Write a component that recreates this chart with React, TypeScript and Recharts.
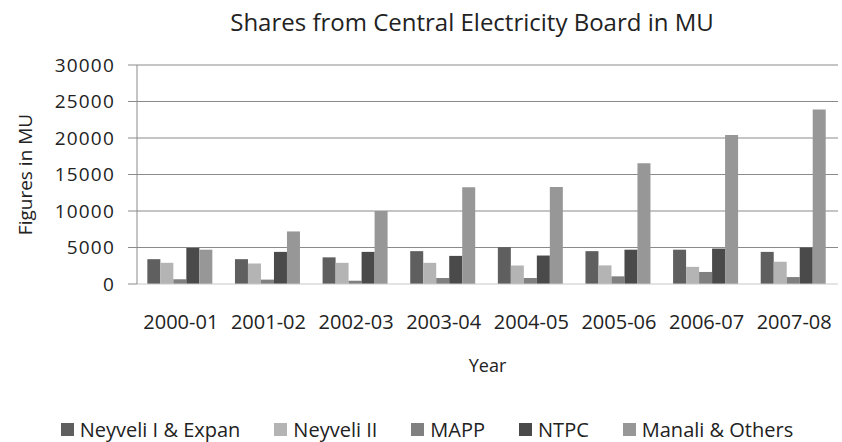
import React from 'react';
import { BarChart, Bar, XAxis, YAxis, CartesianGrid, Legend, Label } from 'recharts';

const years = ['2000-01', '2001-02', '2002-03', '2003-04', '2004-05', '2005-06', '2006-07', '2007-08'];
const neyveli1 = [3400, 3400, 3650, 4500, 5050, 4500, 4700, 4400];
const neyveli2 = [2900, 2800, 2900, 2900, 2550, 2550, 2350, 3050];
const mapp = [650, 600, 450, 820, 820, 1050, 1650, 950];
const ntpc = [4950, 4400, 4400, 3850, 3900, 4700, 4850, 5000];
const manali = [4700, 7200, 10000, 13250, 13300, 16550, 20400, 23900];
const yTicks = [0, 5000, 10000, 15000, 20000, 25000, 30000];

const series = [
  { key: 'n1', name: 'Neyveli I & Expan', color: '#5f5f5f' },
  { key: 'n2', name: 'Neyveli II', color: '#b4b4b4' },
  { key: 'mapp', name: 'MAPP', color: '#808080' },
  { key: 'ntpc', name: 'NTPC', color: '#4a4a4a' },
  { key: 'manali', name: 'Manali & Others', color: '#979797' },
];

const data = years.map((year, i) => ({
  year,
  n1: neyveli1[i],
  n2: neyveli2[i],
  mapp: mapp[i],
  ntpc: ntpc[i],
  manali: manali[i],
}));

const font = '"Open Sans", sans-serif';

const renderLegend = () => (
  <div style={{ display: 'flex', justifyContent: 'center', fontFamily: font, fontSize: 20, color: '#222' }}>
    {series.map((s, i) => (
      <div key={s.key} style={{ display: 'flex', alignItems: 'center', marginLeft: i === 0 ? 0 : 34 }}>
        <span style={{ width: 13, height: 13, background: s.color, marginRight: 6, display: 'inline-block' }} />
        <span>{s.name}</span>
      </div>
    ))}
  </div>
);

export default function App() {
  return (
    <div style={{ position: 'absolute', left: 0, top: 0, width: 842, height: 442, background: '#fff' }}>
      <div
        style={{
          position: 'absolute',
          left: 0,
          top: 5,
          width: 944,
          textAlign: 'center',
          fontFamily: font,
          fontSize: 24,
          color: '#222',
          zIndex: 1,
        }}
      >
        Shares from Central Electricity Board in MU
      </div>
      <BarChart
        width={842}
        height={442}
        data={data}
        margin={{ top: 65, right: 4, left: 0, bottom: 68 }}
        barCategoryGap="11.8%"
        barGap={0}
      >
        <CartesianGrid vertical={false} stroke="#8a8a8a" horizontalValues={[5000, 10000, 15000, 20000, 25000, 30000]} />
        <XAxis
          dataKey="year"
          height={90}
          tickLine={false}
          axisLine={{ stroke: '#c8c8c8' }}
          tickMargin={25}
          tick={{ fontFamily: font, fontSize: 20, fill: '#222' }}
        >
          <Label value="Year" position="insideBottom" offset={2} style={{ fontFamily: font, fontSize: 18, fill: '#222' }} />
        </XAxis>
        <YAxis
          width={137}
          domain={[0, 30000]}
          ticks={yTicks}
          interval={0}
          tickSize={9}
          tickMargin={13}
          tickLine={{ stroke: '#8a8a8a' }}
          axisLine={{ stroke: '#8a8a8a' }}
          tick={{ fontFamily: font, fontSize: 19, fill: '#222', letterSpacing: 1.2 }}
        >
          <Label
            value="Figures in MU"
            angle={-90}
            position="insideLeft"
            offset={25}
            style={{ fontFamily: font, fontSize: 19, fill: '#222', textAnchor: 'middle' }}
          />
        </YAxis>
        <Legend
          layout="horizontal"
          verticalAlign="middle"
          align="center"
          wrapperStyle={{ top: 416, left: 0, width: 854 }}
          content={renderLegend}
        />
        {series.map((s) => (
          <Bar key={s.key} dataKey={s.key} name={s.name} fill={s.color} isAnimationActive={false} />
        ))}
      </BarChart>
    </div>
  );
}
